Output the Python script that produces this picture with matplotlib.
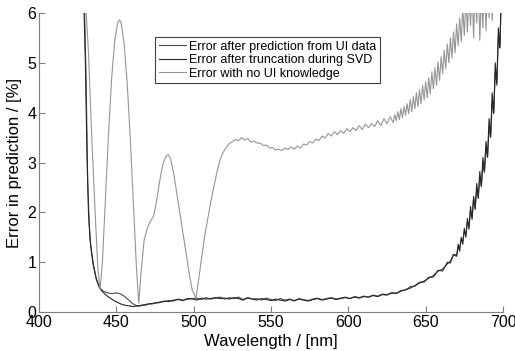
"""Spectral prediction error vs wavelength (three error curves)."""
import matplotlib.pyplot as plt

PRED_COLOR  = "#4a4a4a"
TRUNC_COLOR = "#262626"
NOUI_COLOR  = "#959595"
AXIS_COLOR  = "#7f7f7f"

# error with no UI knowledge
wl_noui = [429, 430, 432, 434, 436, 438, 439.5, 441, 443, 445, 447, 449, 451, 452, 453,
           455, 457, 459, 461, 463, 464.5, 466, 468, 470, 472, 474, 476, 478, 480, 482,
           483.5, 485, 487, 489, 491, 493, 495, 497, 499, 501.5, 503, 505, 507, 509, 511,
           513, 515, 517, 519, 521, 523, 525, 527, 529, 531, 533, 535, 537, 539, 541,
           543, 545, 547, 549, 551, 553, 555, 557, 559, 561, 563, 565, 567, 569, 571,
           573, 575, 577, 579, 581, 583, 585, 587, 589, 591, 593, 595, 597, 599, 601,
           603, 605, 607, 609, 611, 613, 615, 617, 619, 621, 623, 625, 627, 629, 630,
           631, 632, 633, 634, 635, 636, 637, 638, 639, 640, 641, 642, 643, 644, 645,
           646, 647, 648, 649, 650, 651, 652, 653, 654, 655, 656, 657, 658, 659, 660,
           661, 662, 663, 664, 665, 666, 667, 668, 669, 670, 671, 672, 673, 674, 675,
           676, 677, 678, 679, 680, 681, 682, 683, 684, 685, 686, 687, 688, 689, 690,
           691, 692, 693, 694, 695, 696, 697, 698, 699, 700]
err_noui = [7.5, 6.3, 5.2, 3.6, 2.2, 0.9, 0.45, 1.0, 2.3, 3.6, 4.7, 5.45, 5.82, 5.86, 5.82,
            5.4, 4.6, 3.5, 2.2, 0.9, 0.18, 0.8, 1.45, 1.68, 1.82, 1.92, 2.22, 2.62, 2.96, 3.12,
            3.16, 3.08, 2.8, 2.4, 2.0, 1.6, 1.2, 0.8, 0.45, 0.27, 0.6, 1.05, 1.5, 1.85, 2.2,
            2.5, 2.8, 3.05, 3.2, 3.3, 3.38, 3.42, 3.46, 3.44, 3.50, 3.45, 3.48, 3.41, 3.43, 3.39,
            3.39, 3.34, 3.35, 3.29, 3.30, 3.25, 3.27, 3.24, 3.29, 3.26, 3.31, 3.27, 3.33, 3.29, 3.37,
            3.35, 3.42, 3.39, 3.47, 3.44, 3.53, 3.49, 3.58, 3.53, 3.62, 3.56, 3.64, 3.58, 3.68, 3.62,
            3.70, 3.64, 3.74, 3.66, 3.77, 3.70, 3.78, 3.72, 3.84, 3.74, 3.88, 3.78, 3.92, 3.80, 3.96,
            3.84, 4.02, 3.86, 4.08, 3.90, 4.12, 3.95, 4.18, 3.98, 4.26, 4.02, 4.32, 4.08, 4.40, 4.12,
            4.46, 4.18, 4.55, 4.25, 4.62, 4.30, 4.70, 4.38, 4.82, 4.48, 4.90, 4.55, 5.02, 4.65, 5.12,
            4.78, 5.25, 4.88, 5.38, 5.00, 5.50, 5.10, 5.62, 5.20, 5.78, 5.35, 5.90, 5.42, 6.10, 5.55,
            6.30, 5.62, 6.40, 5.75, 6.50, 5.50, 6.60, 5.80, 6.70, 5.45, 6.40, 5.70, 6.70, 5.65, 6.50,
            5.90, 6.80, 5.85, 6.60, 6.10, 6.90, 6.20, 7.00, 6.50, 7.20]

# error after prediction from UI data
wl_pred = [428, 429.5, 430.5, 431.5, 432.5, 433.5, 435, 437, 439, 441, 443, 445, 447, 449,
           451, 453, 455, 457, 459, 461, 463, 465, 467, 469, 471, 473, 475, 478, 481, 484,
           487, 490, 493, 496, 499, 502, 505, 508, 511, 514, 517, 520, 523, 526, 529, 532,
           535, 538, 541, 544, 547, 550, 553, 556, 559, 562, 565, 568, 571, 574, 577, 580,
           583, 586, 589, 592, 595, 598, 601, 604, 607, 610, 613, 616, 619, 622, 625, 628,
           631, 634, 637, 640, 643, 646, 649, 652, 655, 658, 661, 664, 666, 668, 670, 671,
           672, 673, 674, 675, 676, 677, 678, 679, 680, 681, 682, 683, 684, 685, 686, 687,
           688, 689, 690, 691, 692, 693, 694, 695, 696, 697, 698, 699]
err_pred = [7.5, 6.0, 4.6, 2.6, 1.75, 1.3, 0.95, 0.66, 0.5, 0.43, 0.40, 0.38, 0.37, 0.38,
            0.38, 0.36, 0.32, 0.27, 0.21, 0.16, 0.13, 0.13, 0.14, 0.15, 0.17, 0.16, 0.18, 0.20, 0.21, 0.23,
            0.22, 0.26, 0.24, 0.27, 0.26, 0.28, 0.25, 0.29, 0.26, 0.28, 0.30, 0.26, 0.29, 0.27, 0.30, 0.25,
            0.29, 0.26, 0.27, 0.24, 0.28, 0.25, 0.23, 0.27, 0.24, 0.26, 0.22, 0.27, 0.25, 0.23, 0.26, 0.28,
            0.25, 0.27, 0.29, 0.26, 0.28, 0.30, 0.27, 0.31, 0.29, 0.32, 0.30, 0.34, 0.32, 0.36, 0.35, 0.39,
            0.38, 0.43, 0.44, 0.51, 0.52, 0.60, 0.60, 0.70, 0.70, 0.84, 0.82, 1.00, 0.98, 1.16, 1.14, 1.28,
            1.30, 1.46, 1.42, 1.62, 1.56, 1.82, 1.72, 2.04, 1.90, 2.28, 2.08, 2.48, 2.30, 2.72, 2.52, 2.95,
            2.80, 3.30, 3.10, 3.70, 3.50, 4.20, 4.00, 4.80, 4.60, 5.50, 5.30, 6.60]

# error after truncation during SVD
wl_trunc = [428, 429, 430, 431, 432, 433, 435, 437, 439, 441, 443, 445, 447, 449, 451, 453,
            455, 457, 459, 461, 463, 465, 467, 469, 471, 473, 475, 478, 481, 484, 487, 490,
            493, 496, 499, 502, 505, 508, 511, 514, 517, 520, 523, 526, 529, 532, 535, 538,
            541, 544, 547, 550, 553, 556, 559, 562, 565, 568, 571, 574, 577, 580, 583, 586,
            589, 592, 595, 598, 601, 604, 607, 610, 613, 616, 619, 622, 625, 628, 631, 634,
            637, 640, 643, 646, 649, 652, 655, 658, 661, 664, 666, 668, 670, 671, 672, 673,
            674, 675, 676, 677, 678, 679, 680, 681, 682, 683, 684, 685, 686, 687, 688, 689,
            690, 691, 692, 693, 694, 695, 696, 697, 698, 699, 700]
err_trunc = [7.5, 6.2, 5.0, 3.2, 2.0, 1.45, 0.98, 0.68, 0.5, 0.41, 0.35, 0.30, 0.26, 0.22, 0.19, 0.16,
             0.14, 0.13, 0.12, 0.11, 0.12, 0.12, 0.14, 0.14, 0.16, 0.17, 0.18, 0.19, 0.22, 0.21, 0.24, 0.25,
             0.23, 0.26, 0.27, 0.24, 0.28, 0.26, 0.27, 0.29, 0.27, 0.28, 0.26, 0.29, 0.27, 0.24, 0.28, 0.26,
             0.24, 0.27, 0.25, 0.23, 0.26, 0.24, 0.22, 0.25, 0.23, 0.26, 0.24, 0.22, 0.25, 0.27, 0.24, 0.26,
             0.28, 0.25, 0.27, 0.29, 0.27, 0.30, 0.28, 0.31, 0.30, 0.33, 0.31, 0.35, 0.34, 0.38, 0.37, 0.42,
             0.45, 0.48, 0.53, 0.58, 0.62, 0.68, 0.73, 0.82, 0.86, 0.97, 1.02, 1.15, 1.12, 1.36, 1.22, 1.50,
             1.36, 1.68, 1.50, 1.88, 1.66, 2.12, 1.86, 2.32, 2.06, 2.58, 2.28, 2.82, 2.52, 3.10, 2.82, 3.42,
             3.12, 3.88, 3.52, 4.40, 3.98, 5.00, 4.55, 5.70, 5.30, 6.50, 7.50]

x_ticks = [400, 450, 500, 550, 600, 650, 700]
y_ticks = [0, 1, 2, 3, 4, 5, 6]

plt.rcParams["font.family"] = ["Liberation Sans", "DejaVu Sans"]

fig = plt.figure(figsize=(5.15, 3.51), dpi=100)
ax = fig.add_axes([0.0757, 0.111, 0.901, 0.852])

ax.plot(wl_pred, err_pred, color=PRED_COLOR, linewidth=0.8,
        label="Error after prediction from UI data")
ax.plot(wl_trunc, err_trunc, color=TRUNC_COLOR, linewidth=0.8,
        label="Error after truncation during SVD")
ax.plot(wl_noui, err_noui, color=NOUI_COLOR, linewidth=0.8,
        label="Error with no UI knowledge")

ax.set_xlim(400, 700)
ax.set_ylim(0, 6)
ax.set_xticks(x_ticks)
ax.set_yticks(y_ticks)
ax.tick_params(direction="in", length=4, width=0.8, color=AXIS_COLOR,
               labelsize=11.5, pad=2)
for spine in ("top", "right"):
    ax.spines[spine].set_visible(False)
for spine in ("left", "bottom"):
    ax.spines[spine].set_color(AXIS_COLOR)
    ax.spines[spine].set_linewidth(0.8)

ax.set_xlabel("Wavelength / [nm]", fontsize=12, labelpad=3)
ax.set_ylabel("Error in prediction / [%]", fontsize=12, labelpad=4)

leg = ax.legend(loc="upper left", bbox_to_anchor=(0.25, 0.92), fontsize=9,
                fancybox=False, framealpha=1, edgecolor="#404040",
                handlelength=2.2, handletextpad=0.2, borderpad=0.3,
                labelspacing=0.12, borderaxespad=0)
leg.get_frame().set_linewidth(0.8)

fig.savefig("out.png", dpi=100, facecolor="white")
